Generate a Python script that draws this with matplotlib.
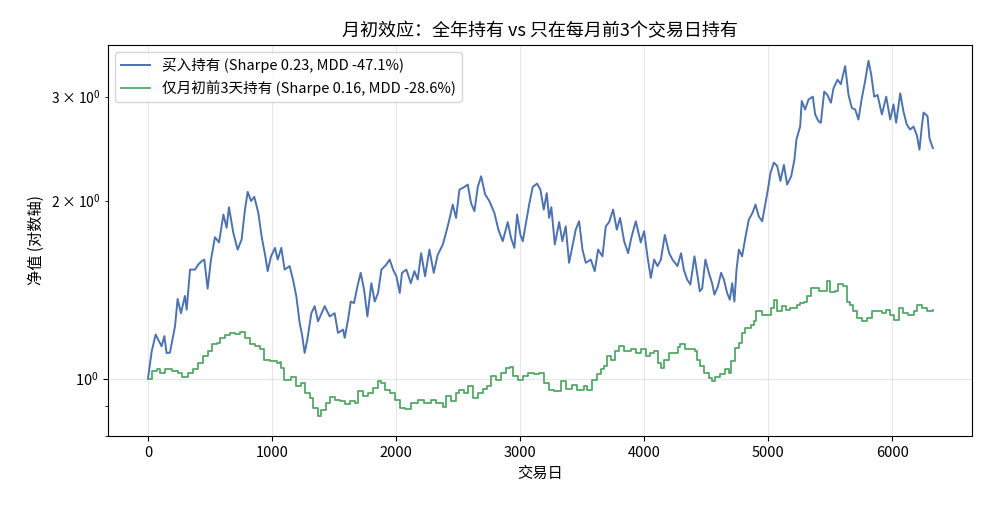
import numpy as np
import matplotlib
import matplotlib.pyplot as plt

matplotlib.use('Agg')

plt.rcParams['font.family'] = ['Noto Sans CJK SC', 'DejaVu Sans']
plt.rcParams['axes.unicode_minus'] = False

# 买入持有净值 (读图估计: 交易日, 净值)
days_bh = [0, 30, 62, 110, 132, 150, 177, 218, 239, 266, 298, 312, 339, 379, 406,
           433, 454, 481, 508, 540, 573, 608, 634, 653, 688, 723, 755, 782, 804,
           831, 857, 890, 917, 944, 965, 992, 1024, 1046, 1075, 1102, 1142, 1169,
           1196, 1223, 1242, 1263, 1285, 1317, 1344, 1371, 1425, 1465, 1505, 1532,
           1573, 1586, 1613, 1635, 1661, 1688, 1715, 1742, 1769, 1801, 1828, 1855,
           1882, 1922, 1949, 1976, 2003, 2030, 2048, 2083, 2119, 2148, 2175, 2202,
           2234, 2269, 2304, 2336, 2377, 2403, 2430, 2457, 2484, 2511, 2551, 2578,
           2605, 2632, 2659, 2686, 2718, 2752, 2793, 2825, 2860, 2901, 2927, 2954,
           2976, 3003, 3022, 3049, 3075, 3102, 3137, 3164, 3191, 3215, 3234, 3252,
           3280, 3315, 3341, 3368, 3395, 3422, 3449, 3476, 3503, 3530, 3570, 3602,
           3629, 3664, 3691, 3718, 3750, 3780, 3806, 3839, 3871, 3898, 3933, 3973,
           4000, 4027, 4054, 4081, 4108, 4135, 4167, 4202, 4229, 4269, 4298, 4320,
           4347, 4373, 4406, 4427, 4449, 4468, 4494, 4522, 4548, 4567, 4594, 4621,
           4643, 4669, 4691, 4710, 4728, 4745, 4764, 4790, 4817, 4844, 4873, 4898,
           4925, 4952, 4978, 4998, 5019, 5046, 5073, 5099, 5127, 5153, 5186, 5212,
           5228, 5258, 5271, 5298, 5325, 5360, 5379, 5406, 5425, 5452, 5478, 5506,
           5527, 5559, 5586, 5621, 5648, 5675, 5702, 5728, 5755, 5782, 5809, 5831,
           5855, 5882, 5917, 5952, 5984, 6011, 6032, 6065, 6091, 6118, 6145, 6172,
           6199, 6220, 6239, 6253, 6285, 6301, 6328]
nav_bh = [1.00, 1.112, 1.187, 1.134, 1.18, 1.105, 1.106, 1.226, 1.364, 1.29, 1.38,
          1.308, 1.529, 1.529, 1.56, 1.58, 1.59, 1.42, 1.59, 1.735, 1.70, 1.895,
          1.80, 1.95, 1.765, 1.653, 1.72, 1.932, 2.07, 1.998, 2.03, 1.906, 1.735,
          1.62, 1.52, 1.61, 1.664, 1.59, 1.664, 1.529, 1.55, 1.471, 1.378, 1.242,
          1.187, 1.105, 1.164, 1.29, 1.326, 1.25, 1.326, 1.274, 1.29, 1.195, 1.21,
          1.172, 1.258, 1.35, 1.342, 1.43, 1.51, 1.414, 1.274, 1.45, 1.35, 1.396,
          1.529, 1.56, 1.59, 1.529, 1.49, 1.396, 1.51, 1.529, 1.45, 1.52, 1.471,
          1.63, 1.49, 1.653, 1.51, 1.62, 1.686, 1.765, 1.858, 1.97, 1.87, 2.088,
          2.11, 2.13, 1.98, 1.92, 2.11, 2.20, 2.05, 1.998, 1.906, 1.787, 1.708,
          1.84, 1.73, 1.664, 1.895, 1.75, 1.708, 1.84, 1.98, 2.11, 2.138, 2.088,
          1.932, 2.06, 1.87, 1.95, 1.686, 1.84, 1.708, 1.81, 1.57, 1.675, 1.787,
          1.846, 1.653, 1.57, 1.59, 1.52, 1.653, 1.61, 1.81, 1.84, 1.932, 1.787,
          1.87, 1.708, 1.63, 1.735, 1.846, 1.70, 1.776, 1.61, 1.48, 1.59, 1.55,
          1.59, 1.75, 1.63, 1.59, 1.55, 1.63, 1.529, 1.471, 1.443, 1.61, 1.51,
          1.405, 1.42, 1.59, 1.51, 1.45, 1.387, 1.43, 1.51, 1.471, 1.396, 1.36,
          1.45, 1.35, 1.529, 1.653, 1.61, 1.735, 1.858, 1.906, 1.97, 1.88, 1.846,
          1.98, 2.088, 2.23, 2.32, 2.29, 2.16, 2.30, 2.13, 2.20, 2.348, 2.538, 2.67,
          2.95, 2.853, 2.966, 3.00, 2.80, 2.725, 2.71, 3.06, 3.02, 2.93, 3.10, 3.205,
          3.15, 3.38, 3.02, 2.87, 2.853, 2.744, 2.98, 3.19, 3.45, 3.27, 3.00, 3.02,
          2.80, 3.00, 2.744, 2.91, 2.71, 3.04, 2.83, 2.69, 2.64, 2.67, 2.58, 2.44,
          2.67, 2.82, 2.78, 2.55, 2.455]

# 仅月初前3天持有净值 (阶梯状)
days_m3 = [0, 30, 70, 97, 137, 191, 245, 272, 325, 366, 406, 446, 487, 513, 554,
           581, 621, 661, 702, 742, 782, 823, 863, 903, 938, 984, 1038, 1063, 1075,
           1097, 1156, 1196, 1237, 1263, 1304, 1331, 1371, 1398, 1438, 1465, 1505,
           1546, 1586, 1626, 1667, 1694, 1734, 1774, 1815, 1855, 1882, 1909, 1949,
           1990, 2030, 2070, 2119, 2175, 2228, 2282, 2323, 2377, 2403, 2444, 2484,
           2511, 2551, 2578, 2618, 2659, 2699, 2734, 2766, 2806, 2847, 2887, 2922,
           2941, 2981, 3022, 3062, 3116, 3156, 3196, 3234, 3274, 3328, 3368, 3422,
           3462, 3516, 3543, 3583, 3624, 3651, 3677, 3704, 3731, 3763, 3798, 3839,
           3893, 3933, 3973, 4013, 4048, 4081, 4108, 4135, 4161, 4202, 4242, 4274,
           4293, 4333, 4373, 4414, 4427, 4454, 4481, 4522, 4548, 4575, 4615, 4656,
           4683, 4702, 4736, 4764, 4790, 4817, 4858, 4885, 4906, 4952, 5003, 5024,
           5051, 5073, 5113, 5140, 5180, 5234, 5258, 5288, 5312, 5347, 5406, 5460,
           5478, 5500, 5540, 5567, 5602, 5635, 5661, 5688, 5715, 5755, 5796, 5836,
           5876, 5917, 5952, 5984, 6011, 6051, 6091, 6131, 6172, 6204, 6239, 6279,
           6328]
nav_m3 = [1.00, 1.03, 1.036, 1.02, 1.036, 1.03, 1.022, 1.007, 1.02, 1.038, 1.063,
          1.09, 1.112, 1.142, 1.149, 1.172, 1.187, 1.195, 1.19, 1.20, 1.172, 1.142,
          1.134, 1.12, 1.077, 1.07, 1.063, 1.065, 1.043, 0.996, 1.007, 0.97, 0.983,
          0.946, 0.928, 0.892, 0.863, 0.886, 0.91, 0.93, 0.921, 0.915, 0.904, 0.915,
          0.91, 0.952, 0.934, 0.946, 0.964, 0.99, 0.983, 0.958, 0.946, 0.921, 0.892,
          0.888, 0.91, 0.921, 0.91, 0.921, 0.91, 0.895, 0.934, 0.915, 0.946, 0.958,
          0.946, 0.97, 0.928, 0.946, 0.96, 0.97, 1.01, 0.996, 1.022, 1.043, 1.047,
          1.01, 0.996, 1.01, 1.022, 1.016, 1.022, 0.983, 0.958, 0.952, 0.99, 0.96,
          0.977, 0.958, 0.97, 0.955, 0.996, 1.016, 1.036, 1.049, 1.09, 1.077, 1.112,
          1.134, 1.112, 1.12, 1.105, 1.12, 1.09, 1.105, 1.112, 1.063, 1.043, 1.077,
          1.105, 1.105, 1.131, 1.142, 1.12, 1.12, 1.112, 1.077, 1.049, 1.022, 1.003,
          0.99, 1.007, 1.016, 1.036, 1.022, 1.07, 1.127, 1.149, 1.195, 1.218, 1.234,
          1.25, 1.30, 1.283, 1.283, 1.317, 1.36, 1.30, 1.326, 1.305, 1.317, 1.334,
          1.343, 1.35, 1.378, 1.423, 1.409, 1.405, 1.465, 1.402, 1.405, 1.443, 1.434,
          1.35, 1.334, 1.30, 1.266, 1.25, 1.266, 1.30, 1.303, 1.29, 1.308, 1.283,
          1.258, 1.317, 1.29, 1.283, 1.30, 1.334, 1.317, 1.303, 1.308]

label_bh = '买入持有 (Sharpe 0.23, MDD -47.1%)'
label_m3 = '仅月初前3天持有 (Sharpe 0.16, MDD -28.6%)'

fig, ax = plt.subplots(figsize=(9.9, 5.05), dpi=100)
fig.subplots_adjust(left=0.109, right=0.982, top=0.911, bottom=0.137)

ax.plot(days_bh, nav_bh, color='#4C72B0', lw=1.4, label=label_bh)
ax.plot(days_m3, nav_m3, color='#55A868', lw=1.3, drawstyle='steps-post', label=label_m3)

ax.set_yscale('log')
ax.set_ylim(0.80, 3.67)
ax.set_xlim(-323, 6645)
ax.grid(True, alpha=0.3)

ax.set_title('月初效应：全年持有 vs 只在每月前3个交易日持有', fontsize=13)
ax.set_xlabel('交易日', fontsize=11)
ax.set_ylabel('净值 (对数轴)', fontsize=11)
ax.tick_params(labelsize=10.5)
ax.legend(loc='upper left', fontsize=10.5)

plt.savefig('out.png', dpi=100)
plt.close()
